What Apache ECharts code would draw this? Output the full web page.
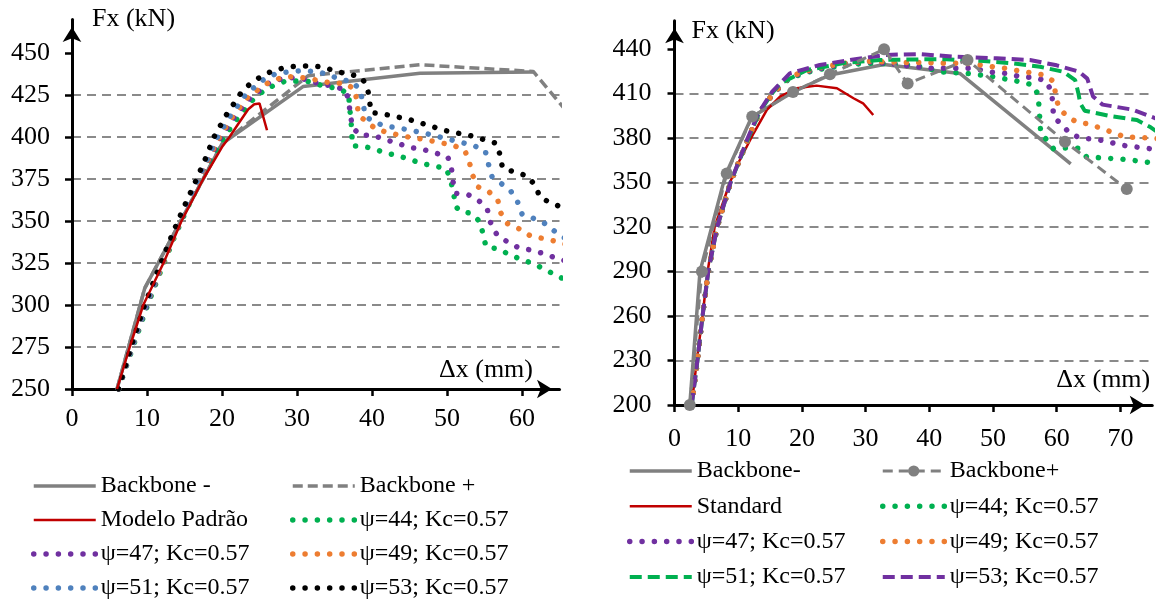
<!DOCTYPE html>
<html><head><meta charset="utf-8">
<script src="https://cdn.jsdelivr.net/npm/echarts@6/dist/echarts.min.js"></script>
<style>html,body{margin:0;padding:0;background:#fff}#c{width:1161px;height:601px}</style>
</head><body><div id="c"></div>
<script>
// ---------- tick labels ----------
const xTicksL = [0, 10, 20, 30, 40, 50, 60];
const yTicksL = [250, 275, 300, 325, 350, 375, 400, 425, 450];
const xTicksR = [0, 10, 20, 30, 40, 50, 60, 70];
const yTicksR = [200, 230, 260, 290, 320, 350, 380, 410, 440];

// ---------- left chart series [Δx (mm), Fx (kN)] ----------
const bbNegL = [[6.0,250],[9.7,310],[20,396],[30.8,430],[46.4,438],[61.5,438.7]];
const bbPosL = [[6.0,250],[9.7,310],[20,396],[31.5,436.5],[46.4,443],[61.5,439],[66,415]];
const stdL = [[6,250],[7.7,275],[9.5,300],[12.2,325],[14.6,350],[17.5,375],[20,394],[21,400],[22.2,408],[23.5,416.5],[24.3,419.5],[25,420],[26,404]];
const psi44L = [[6.2,250],[8.2,276],[10,299],[11.9,321],[13.8,342],[15.3,357],[16.7,370],[18.2,383.5],[19.8,396.5],[21.7,409],[24.2,422.6],[26,429],[28.6,433.5],[31.7,433],[33.5,430.4],[35.3,429],[36.9,426],[37,418],[37.2,410],[37.3,402.6],[37.4,394.6],[38.3,394.6],[39.9,393.5],[41.5,391],[44.9,387],[46.5,384.3],[49.9,381.3],[50.5,374],[50.9,366.4],[51.1,359],[51.7,356],[53.2,354.5],[54.4,349.6],[54.8,342.3],[55.2,334.7],[56.9,333.3],[58.4,329.8],[60,327],[61.6,324.4],[63.2,320.8],[64.7,317.3],[66,314.5]];
const psi47L = [[6.2,250],[8.1,276],[9.9,299],[11.8,321],[13.7,342],[15.2,357],[16.6,370.5],[18,384],[19.5,397.5],[21.4,410.5],[23.7,423],[26.5,433],[28.4,435],[30.2,435.5],[33.1,431.5],[34.8,430.4],[36.5,428],[36.9,421],[37.1,413.7],[37.4,405.8],[38.4,401],[40.1,401],[41.7,398.6],[45.1,393.8],[46.8,392.6],[50.1,388.3],[50.6,381.3],[50.8,373.4],[51.2,366.4],[52.9,365.5],[54.4,361.5],[55.4,356.5],[55.8,349.2],[56.6,342.3],[58,337.7],[59.5,334.2],[61.2,332.7],[62.8,330.7],[64.5,328],[66,326]];
const psi49L = [[6.2,250],[8.1,276],[9.8,299],[11.8,321],[13.7,342],[15.1,357],[16.5,370.5],[17.9,384],[19.4,398],[21.2,411],[23.4,423.5],[25.8,431.5],[28,435.5],[29.6,436],[31.3,435],[32.9,433.6],[34.7,432],[36.4,432],[37.7,428.4],[38,421],[38.2,413],[39.3,409],[40.6,404.5],[42.3,402.5],[44,400.6],[47.4,398.2],[50.9,395],[52.4,391.8],[53,384.7],[53.4,377.4],[54.1,370.4],[55.6,367.4],[56.8,361.9],[57.2,354.6],[58,348.6],[59.7,345.2],[61.1,341.2],[62.7,339.7],[64.4,338],[66,336]];
const psi51L = [[6.2,250],[8.1,276],[9.8,299],[11.7,321],[13.6,342],[15,357],[16.4,370.5],[17.8,384.5],[19.2,398.5],[21,412],[23.1,425],[25.5,434],[27.3,438],[30.6,439.5],[32.4,438.9],[34,437.5],[35.7,434.3],[37.4,433],[38.4,428],[38.8,420.4],[39.1,412.5],[40.1,409.3],[41.7,406.5],[43.4,405.5],[46.8,402.5],[51.9,396.8],[53.6,394.8],[55.1,391.8],[55.5,384.3],[56,376.4],[57.2,372.4],[58.5,367.8],[59.4,361.5],[60,354.2],[61.5,351.6],[63.2,348.2],[64.5,343.3],[66,339]];
const psi53L = [[6.2,250],[8,276.8],[9.6,299],[11.5,321],[13.4,342.4],[14.8,357],[16.2,370.8],[17.6,385],[18.9,399.8],[20.6,413.3],[22.5,426],[23.7,431.5],[25.3,436.3],[26.8,439.5],[28.5,441.4],[30.2,442.3],[32,442.3],[33.6,441.5],[35.3,438.9],[37.1,437.3],[38.6,435.5],[39.4,429.5],[39.9,414.5],[41.5,413.7],[44.9,410.5],[49.9,403.7],[53.3,400.6],[56.6,396.2],[57.1,388.9],[57.4,381.5],[59.1,379],[60.7,376.8],[61.8,371],[62.4,364],[64,360.5],[66,357]];

// ---------- right chart series [Δx (mm), Fx (kN)] ----------
const bbNegR = [[2.4,200],[4.0,290],[8.0,355],[12.1,394],[18.6,411],[24.4,422.5],[32.9,429.5],[44.8,423.5],[62.2,362.5]];
const bbPosR = [[2.4,200],[4.3,290],[8.2,356],[12.2,394.5],[18.6,411],[24.4,423],[32.9,439.8],[36.6,416.7],[46,432.6],[61.3,377.5],[71,345.6]];
const stdR = [[2.7,200],[3.5,230],[4.4,260],[5.2,290],[6.3,320],[8.7,350],[10,363],[12.4,383],[14.5,399],[16.6,408],[19.2,413.5],[22.3,415.3],[25.5,413.5],[28.1,406.8],[29.6,403.4],[31.2,395.5]];
const psi44R = [[2.7,200],[3.6,230],[4.4,260],[5.3,290],[6.7,320],[8.8,350],[11.6,380],[13.3,397],[15.5,410],[18.1,420.5],[21.8,425.5],[26,428.5],[30.2,430.5],[34,430],[37.5,429],[42.2,424.5],[46.4,423.4],[50,421.3],[54.2,418],[56.3,415.7],[57.1,409],[57.5,382.7],[58.4,379],[59.5,372.7],[61.6,373.3],[63.5,373],[64.7,367.2],[66.8,366.7],[70.7,365.6],[75,363.3],[76,363]];
const psi47R = [[2.7,200],[3.6,230],[4.4,260],[5.3,290],[6.7,320],[8.8,350],[11.6,380],[13.3,397],[15.5,410],[18.1,421],[21.8,426],[26,429.5],[30.2,431.5],[34.9,429.5],[40.1,427],[46.4,427],[48.2,425.8],[50.3,424],[52.4,423.4],[54.5,421],[56.3,420.9],[58.3,418.6],[59.2,411.2],[59.4,402.2],[59.5,394],[60.9,388.8],[62.1,382.7],[64,379.8],[66.1,379.1],[68.1,377.5],[69.9,375.3],[71.9,374.2],[73.9,373.2],[76,372]];
const psi49R = [[2.7,200],[3.6,230],[4.4,260],[5.3,290],[6.7,320],[8.8,350],[11.6,380],[13.3,397],[15.5,410],[18.1,421.5],[21.8,426.5],[26,430],[30.2,431.8],[35,431],[39.6,430.8],[43.8,430.3],[45.9,430.3],[47.9,429.2],[50,428],[51.9,427],[53.9,425.4],[55.9,424],[57.9,422.5],[59.6,418],[59.8,409.5],[60.3,400.7],[61.4,395.5],[63,391],[65.1,389.4],[67,386.5],[68.9,383.6],[70.8,380.5],[72.8,380.5],[74.8,379.8],[76,379.5]];
const psi51R = [[2.7,200],[3.6,230],[4.4,260],[5.3,290],[6.7,320],[8.8,350],[11.6,380],[13.3,397],[15.3,410],[16.6,416.8],[20.8,425.8],[27,430.8],[32.3,432.6],[38.5,433],[42.7,433],[48,432],[53.2,430.3],[57.4,428],[61,424.7],[62.9,419],[63.4,410.2],[63.7,403.4],[64.4,398.4],[68.4,394.8],[72.6,392.1],[74.6,387.6],[75.7,384.3],[76.5,383]];
const psi53R = [[2.7,200],[3.6,230],[4.4,260],[5.3,290],[6.7,320],[8.8,350],[11.5,380],[13.2,397],[15.3,411],[18.1,423.6],[22.8,429.2],[28.1,433],[33.3,436],[38.5,436.6],[43.8,434.8],[50.6,433.7],[55.8,432.6],[60,429],[63.5,424.7],[64.8,420],[65.7,408],[67.2,402.5],[72,399],[75.5,393.3],[76,392.5]];

// ---------- styles ----------
const FONT = '"Liberation Serif","Times New Roman",Times,serif';
const GREY = '#808080', RED = '#C00000', GREEN = '#00B050', PURPLE = '#7030A0',
      ORANGE = '#ED7D31', BLUE = '#4F81BD', BLACK = '#000000';
const solid = (c, w) => ({ color: c, width: w, type: 'solid', cap: 'butt' });
const dashed = (c, w, d) => ({ color: c, width: w, type: d, cap: 'butt' });
const dotted = c => ({ color: c, width: 5.5, type: [0.01, 12.3], cap: 'round' });

function line(name, data, idx, ls, extra) {
  return Object.assign({
    type: 'line', name: name, data: data, xAxisIndex: idx, yAxisIndex: idx,
    symbol: 'none', showSymbol: false, clip: true, silent: true,
    lineStyle: ls, itemStyle: { color: ls.color }, emphasis: { disabled: true }
  }, extra || {});
}

const series = [
  line('Backbone -', bbNegL, 0, solid(GREY, 3.5)),
  line('Backbone +', bbPosL, 0, dashed(GREY, 3.5, [10, 5])),
  line('ψ=44; Kc=0.57', psi44L, 0, dotted(GREEN)),
  line('ψ=47; Kc=0.57', psi47L, 0, dotted(PURPLE)),
  line('ψ=49; Kc=0.57', psi49L, 0, dotted(ORANGE)),
  line('ψ=51; Kc=0.57', psi51L, 0, dotted(BLUE)),
  line('ψ=53; Kc=0.57', psi53L, 0, dotted(BLACK)),
  line('Modelo Padrão', stdL, 0, solid(RED, 2.5)),

  line('Backbone-', bbNegR, 1, solid(GREY, 3.5)),
  line('Standard', stdR, 1, solid(RED, 2.5)),
  line('R:ψ=44; Kc=0.57', psi44R, 1, dotted(GREEN)),
  line('R:ψ=47; Kc=0.57', psi47R, 1, dotted(PURPLE)),
  line('R:ψ=49; Kc=0.57', psi49R, 1, dotted(ORANGE)),
  line('R:ψ=51; Kc=0.57', psi51R, 1, dashed(GREEN, 4, [12, 6])),
  line('R:ψ=53; Kc=0.57', psi53R, 1, dashed(PURPLE, 4, [12, 6])),
  line('Backbone+', bbPosR, 1, dashed(GREY, 3, [10, 6]),
       { symbol: 'circle', showSymbol: true, symbolSize: 12, itemStyle: { color: GREY } })
];

const styleOf = {};
series.forEach(s => { styleOf[s.name] = s; });

function legendData(names) {
  return names.map(n => {
    const s = styleOf[n];
    const it = { name: n, lineStyle: Object.assign({}, s.lineStyle) };
    if (s.symbol === 'none') it.itemStyle = { opacity: 0, color: s.lineStyle.color };
    else it.itemStyle = { color: s.itemStyle.color, opacity: 1 };
    return it;
  });
}

function legend(left, top, gap, names) {
  return {
    orient: 'vertical', left: left, top: top, padding: 0, itemGap: gap,
    itemWidth: 62, itemHeight: 14, selectedMode: false,
    textStyle: { fontFamily: FONT, fontSize: 24, color: '#000', lineHeight: 24 },
    lineStyle: { width: 'inherit' },
    formatter: n => n.replace(/^R:/, ''),
    data: legendData(names)
  };
}

const axisLine = { show: true, onZero: false, lineStyle: { color: '#000', width: 3 },
  symbol: ['none', 'arrow'], symbolSize: [14, 15], symbolOffset: [0, -7.5] };
const tick = vals => ({ show: true, inside: false, length: 7, lineStyle: { color: '#000', width: 2.5 }, customValues: vals });
const lab = (vals, m) => ({ show: true, customValues: vals, margin: m, fontFamily: FONT, fontSize: 26, color: '#000' });
const grid = { show: true, showMinLine: false, showMaxLine: false,
  lineStyle: { color: '#8a8a8a', width: 1.8, type: [9, 6] } };

const option = {
  animation: false,
  backgroundColor: '#fff',
  grid: [
    { left: 72, top: 19.4, width: 487.5, height: 369.6, outerBoundsMode: 'none', containLabel: false },
    { left: 674.5, top: 20.8, width: 477.75, height: 384.2, outerBoundsMode: 'none', containLabel: false }
  ],
  xAxis: [
    { gridIndex: 0, type: 'value', min: 0, max: 65, interval: 10,
      axisLine: axisLine, axisTick: tick(xTicksL), axisLabel: lab(xTicksL, 17), splitLine: { show: false },
      name: 'Δx (mm)', nameLocation: 'end', nameGap: -26.5, nameMoveOverlap: false,
      nameTextStyle: { fontFamily: FONT, fontSize: 26, color: '#000', align: 'right', verticalAlign: 'bottom', lineHeight: 38 } },
    { gridIndex: 1, type: 'value', min: 0, max: 75, interval: 10,
      axisLine: axisLine, axisTick: tick(xTicksR), axisLabel: lab(xTicksR, 21), splitLine: { show: false },
      name: 'Δx (mm)', nameLocation: 'end', nameGap: -2, nameMoveOverlap: false,
      nameTextStyle: { fontFamily: FONT, fontSize: 26, color: '#000', align: 'right', verticalAlign: 'bottom', lineHeight: 50 } }
  ],
  yAxis: [
    { gridIndex: 0, type: 'value', min: 250, max: 470, interval: 25,
      axisLine: axisLine, axisTick: tick(yTicksL), axisLabel: lab(yTicksL, 22), splitLine: grid,
      name: 'Fx (kN)', nameLocation: 'end', nameGap: 0, nameMoveOverlap: false,
      nameTextStyle: { fontFamily: FONT, fontSize: 26, color: '#000', align: 'left', verticalAlign: 'middle', padding: [0, 0, 0, 20] } },
    { gridIndex: 1, type: 'value', min: 200, max: 459, interval: 30,
      axisLine: axisLine, axisTick: tick(yTicksR), axisLabel: lab(yTicksR, 23), splitLine: grid,
      name: 'Fx (kN)', nameLocation: 'end', nameGap: -10, nameMoveOverlap: false,
      nameTextStyle: { fontFamily: FONT, fontSize: 26, color: '#000', align: 'left', verticalAlign: 'middle', padding: [0, 0, 0, 17] } }
  ],
  legend: [
    legend(31, 474, 10, ['Backbone -', 'Modelo Padrão', 'ψ=47; Kc=0.57', 'ψ=51; Kc=0.57']),
    legend(290, 474, 10, ['Backbone +', 'ψ=44; Kc=0.57', 'ψ=49; Kc=0.57', 'ψ=53; Kc=0.57']),
    legend(627, 459, 11.3, ['Backbone-', 'Standard', 'R:ψ=47; Kc=0.57', 'R:ψ=51; Kc=0.57']),
    legend(880, 459, 11.3, ['Backbone+', 'R:ψ=44; Kc=0.57', 'R:ψ=49; Kc=0.57', 'R:ψ=53; Kc=0.57'])
  ],
  series: series
};

const chart = echarts.init(document.getElementById('c'), null, { renderer: 'canvas' });
chart.setOption(option);
</script></body></html>
